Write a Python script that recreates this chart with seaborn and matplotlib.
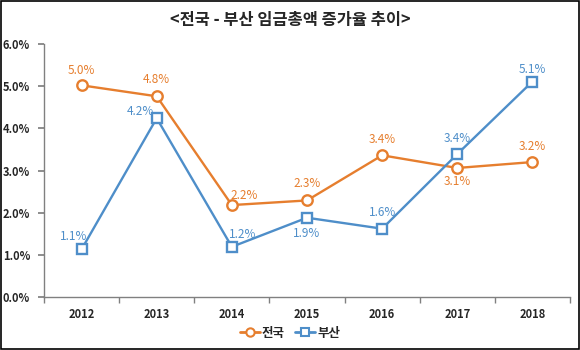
import matplotlib
matplotlib.use("Agg")
import matplotlib.pyplot as plt
import seaborn as sns
import pandas as pd
from matplotlib.patches import Rectangle
from matplotlib.ticker import FixedLocator, PercentFormatter

years = ["2012", "2013", "2014", "2015", "2016", "2017", "2018"]
national = [5.02, 4.76, 2.18, 2.29, 3.36, 3.06, 3.20]
busan = [1.13, 4.24, 1.19, 1.88, 1.62, 3.39, 5.11]
series_names = ["전국", "부산"]

df = pd.DataFrame({
    "year": years * 2,
    "rate": national + busan,
    "region": [series_names[0]] * len(years) + [series_names[1]] * len(years),
})

ORANGE = "#E67E2E"
BLUE = "#4E8EC9"
colors = {"전국": ORANGE, "부산": BLUE}

sns.set_theme(style="white")
plt.rcParams["font.family"] = ["Noto Sans CJK KR", "DejaVu Sans"]

fig = plt.figure(figsize=(5.8, 3.5), dpi=100)
ax = fig.add_axes([44 / 580, 53 / 350, 526 / 580, 253 / 350])

sns.lineplot(data=df, x="year", y="rate", hue="region", style="region",
             palette=colors, markers={"전국": "o", "부산": "s"}, dashes=False,
             markersize=7.5, linewidth=1.7, ax=ax, legend=False)
# hollow markers with coloured edges
for line in ax.lines:
    c = line.get_color()
    line.set_markerfacecolor("white")
    line.set_markeredgecolor(c)
    line.set_markeredgewidth(1.7)

# data labels (offsets in points)
nat_off = [(0, 11), (0, 12), (9, 7), (0, 12), (0, 11.5), (0, -10), (0, 11)]
bus_off = [(-6, 9), (-12, 5), (8, 9), (0, -11), (0, 11.5), (0, 11), (0, 9)]
for i, (v, off) in enumerate(zip(national, nat_off)):
    ax.annotate(f"{v:.1f}%", (i, v), xytext=off, textcoords="offset points",
                ha="center", va="center", color=ORANGE, fontsize=8.5)
for i, (v, off) in enumerate(zip(busan, bus_off)):
    ax.annotate(f"{v:.1f}%", (i, v), xytext=off, textcoords="offset points",
                ha="center", va="center", color=BLUE, fontsize=8.5)

ax.set_xlim(-0.5, len(years) - 0.5)
ax.set_ylim(0, 6)
ax.yaxis.set_major_locator(FixedLocator([0, 1, 2, 3, 4, 5, 6]))
ax.yaxis.set_major_formatter(PercentFormatter(decimals=1))
ax.xaxis.set_major_locator(FixedLocator(range(len(years))))
ax.xaxis.set_minor_locator(FixedLocator([i + 0.5 for i in range(-1, len(years))]))
ax.set_xticklabels(years)
ax.tick_params(axis="x", which="major", length=0, pad=8, labelsize=8)
ax.tick_params(axis="x", which="minor", length=4, color="#808080", bottom=True)
ax.tick_params(axis="y", length=4, color="#808080", left=True, labelsize=8, pad=6)
for lab in ax.get_xticklabels() + ax.get_yticklabels():
    lab.set_fontweight("bold")
ax.set_xlabel("")
ax.set_ylabel("")
sns.despine(ax=ax)
for s in ["left", "bottom"]:
    ax.spines[s].set_color("#808080")
    ax.spines[s].set_linewidth(1)

fig.text(0.5, 1 - 20 / 350, "<전국 - 부산 임금총액 증가율 추이>", ha="center", va="center",
         fontsize=11.8, fontweight="bold")

handles = [
    plt.Line2D([], [], color=ORANGE, marker="o", markersize=6, markerfacecolor="white",
               markeredgewidth=1.5, linewidth=2),
    plt.Line2D([], [], color=BLUE, marker="s", markersize=6, markerfacecolor="white",
               markeredgewidth=1.5, linewidth=2),
]
fig.legend(handles, series_names, loc="center", bbox_to_anchor=(0.5, 17 / 350),
           ncol=2, frameon=False, handlelength=1.6, handletextpad=0.2,
           columnspacing=0.8, prop={"size": 9, "weight": "bold"})

fig.patches.append(Rectangle((0.002, 0.003), 0.996, 0.994, transform=fig.transFigure,
                             fill=False, edgecolor="black", linewidth=1.2))

fig.savefig("out.png", dpi=100)
